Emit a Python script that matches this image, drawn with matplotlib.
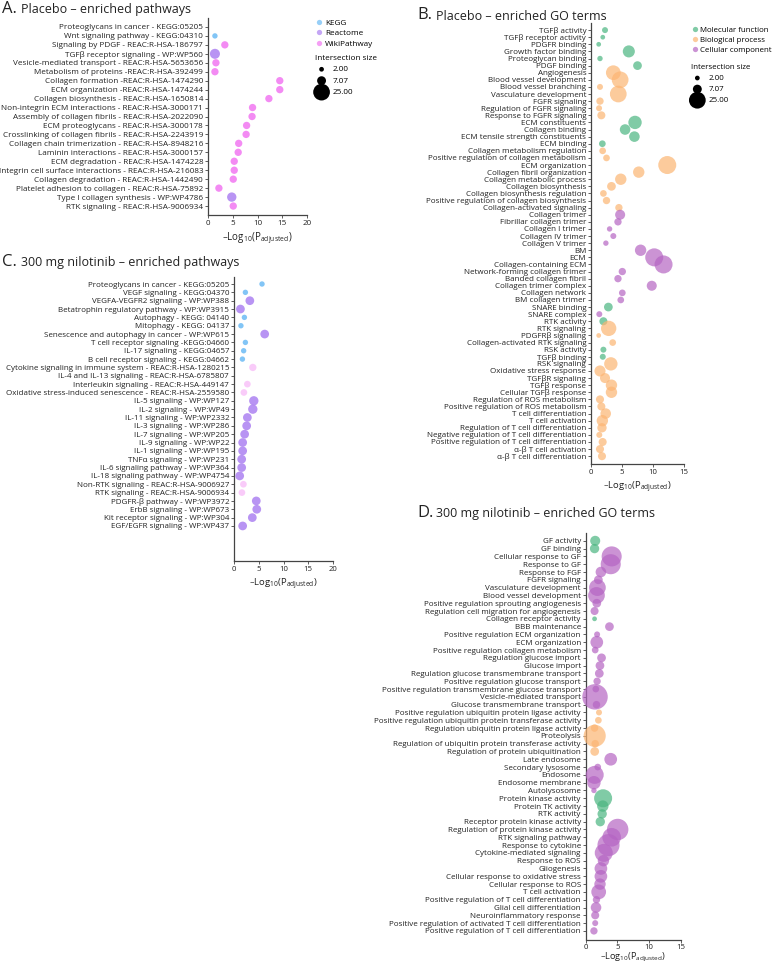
import numpy as np
import matplotlib.pyplot as plt
from matplotlib.lines import Line2D
from matplotlib.colors import to_rgba

plt.rcParams['font.family'] = ['Open Sans', 'DejaVu Sans']
plt.rcParams['mathtext.default'] = 'regular'

# ---------------- A. Placebo - enriched pathways
a_terms = ["Proteoglycans in cancer - KEGG:05205", "Wnt signaling pathway - KEGG:04310",
           "Signaling by PDGF - REAC:R-HSA-186797", "TGFβ receptor signaling - WP:WP560",
           "Vesicle-mediated transport - REAC:R-HSA-5653656", "Metabolism of proteins -REAC:R-HSA-392499",
           "Collagen formation -REAC:R-HSA-1474290", "ECM organization -REAC:R-HSA-1474244",
           "Collagen biosynthesis - REAC:R-HSA-1650814", "Non-integrin ECM interactions - REAC:R-HSA-3000171",
           "Assembly of collagen fibrils - REAC:R-HSA-2022090", "ECM proteoglycans - REAC:R-HSA-3000178",
           "Crosslinking of collagen fibrils - REAC:R-HSA-2243919", "Collagen chain trimerization - REAC:R-HSA-8948216",
           "Laminin interactions - REAC:R-HSA-3000157", "ECM degradation - REAC:R-HSA-1474228",
           "Integrin cell surface interactions - REAC:R-HSA-216083", "Collagen degradation - REAC:R-HSA-1442490",
           "Platelet adhesion to collagen - REAC:R-HSA-75892", "Type I collagen synthesis - WP:WP4786",
           "RTK signaling - REAC:R-HSA-9006934"]
a_logp = [np.nan, 1.4, 3.4, 1.4, 1.6, 1.4, 14.5, 14.5, 12.3, 9.0, 8.9, 7.8, 7.7, 6.2, 6.1,
          5.3, 5.3, 5.1, 2.2, 4.8, 5.1]
a_size = [np.nan, 2.6, 4.8, 9.0, 4.8, 4.8, 4.8, 4.8, 4.8, 4.8, 4.8, 4.8, 4.8, 4.8, 4.8,
          4.8, 4.8, 4.8, 4.8, 7.8, 4.8]
a_group = ["k", "k", "w", "r", "w", "w", "w", "w", "w", "w", "w", "w", "w", "w", "w",
           "w", "w", "w", "w", "r", "w"]

# ---------------- B. Placebo - enriched GO terms
b_terms = ["TGFβ activity", "TGFβ receptor activity", "PDGFR binding", "Growth factor binding",
           "Proteoglycan binding", "PDGF binding", "Angiogenesis", "Blood vessel development",
           "Blood vessel branching", "Vasculature development", "FGFR signaling",
           "Regulation of FGFR signaling", "Response to FGFR signaling", "ECM constituents",
           "Collagen binding", "ECM tensile strength constituents", "ECM binding",
           "Collagen metabolism regulation", "Positive regulation of collagen metabolism",
           "ECM organization", "Collagen fibril organization", "Collagen metabolic process",
           "Collagen biosynthesis", "Collagen biosynthesis regulation",
           "Positive regulation of collagen biosynthesis", "Collagen-activated signaling",
           "Collagen trimer", "Fibrillar collagen trimer", "Collagen I trimer", "Collagen IV trimer",
           "Collagen V trimer", "BM", "ECM", "Collagen-containing ECM", "Network-forming collagen trimer",
           "Banded collagen fibril", "Collagen trimer complex", "Collagen network", "BM collagen trimer",
           "SNARE binding", "SNARE complex", "RTK activity", "RTK signaling", "PDGFRβ signaling",
           "Collagen-activated RTK signaling", "RSK activity", "TGFβ binding", "RSK signaling",
           "Oxidative stress response", "TGFβR signaling", "TGFβ response", "Cellular TGFβ response",
           "Regulation of ROS metabolism", "Positive regulation of ROS metabolism",
           "T cell differentiation", "T cell activation", "Regulation of T cell differentiation",
           "Negative regulation of T cell differentiation", "Positive regulation of T cell differentiation",
           "α-β T cell activation", "α-β T cell differentiation"]
b_logp = [2.26, 1.9, 1.24, 6.1, 1.45, 7.5, 3.6, 4.7, 1.45, 4.4, 1.45, 1.3, 1.67, 7.1, 5.5, 7.0,
          1.83, 1.88, 2.5, 12.3, 7.7, 4.8, 3.3, 2.0, 2.5, 4.5, 4.7, 4.35, 3.0, 3.6, 2.4, 8.0,
          10.2, 11.7, 5.05, 4.35, 9.8, 5.05, 4.8, 2.8, 1.34, 2.0, 2.85, 1.24, 3.5, 2.0, 1.9, 3.2,
          1.45, 2.26, 3.3, 3.3, 1.45, 1.67, 2.37, 1.83, 1.77, 1.34, 1.88, 1.45, 1.77]
b_size = [3.2, 2.0, 2.0, 13.0, 2.6, 6.8, 19.4, 25.0, 3.2, 25.0, 4.8, 3.2, 5.8, 16.0, 10.0, 10.0,
          4.0, 4.0, 4.0, 29.0, 11.6, 11.6, 6.8, 4.0, 4.8, 4.8, 9.0, 4.8, 2.6, 3.2, 2.6, 11.6,
          29.0, 29.0, 4.8, 4.8, 9.0, 4.0, 4.0, 6.8, 3.2, 5.8, 21.0, 2.0, 4.0, 3.2, 3.2, 16.0,
          11.0, 9.0, 11.6, 11.6, 5.8, 5.8, 10.0, 11.6, 7.8, 3.2, 5.8, 5.8, 5.8]
b_group = ["mf"] * 6 + ["bp"] * 7 + ["mf"] * 4 + ["bp"] * 9 + ["cc"] * 13 + \
          ["mf", "cc", "mf", "bp", "bp", "bp", "mf", "mf"] + ["bp"] * 14

# ---------------- C. 300 mg nilotinib - enriched pathways
c_terms = ["Proteoglycans in cancer - KEGG:05205", "VEGF signaling - KEGG:04370",
           "VEGFA-VEGFR2 signaling - WP:WP388", "Betatrophin regulatory pathway - WP:WP3915",
           "Autophagy - KEGG: 04140", "Mitophagy - KEGG: 04137",
           "Senescence and autophagy in cancer - WP:WP615", "T cell receptor signaling -KEGG:04660",
           "IL-17 signaling - KEGG:04657", "B cell receptor signaling - KEGG:04662",
           "Cytokine signaling in immune system - REAC:R-HSA-1280215",
           "IL-4 and IL-13 signaling - REAC:R-HSA-6785807", "Interleukin signaling - REAC:R-HSA-449147",
           "Oxidative stress-induced senescence - REAC:R-HSA-2559580", "IL-5 signaling - WP:WP127",
           "IL-2 signaling - WP:WP49", "IL-11 signaling - WP:WP2332", "IL-3 signaling - WP:WP286",
           "IL-7 signaling - WP:WP205", "IL-9 signaling - WP:WP22", "IL-1 signaling - WP:WP195",
           "TNFα signaling - WP:WP231", "IL-6 signaling pathway - WP:WP364",
           "IL-18 signaling pathway - WP:WP4754", "Non-RTK signaling - REAC:R-HSA-9006927",
           "RTK signaling - REAC:R-HSA-9006934", "PDGFR-β pathway - WP:WP3972",
           "ErbB signaling - WP:WP673", "Kit receptor signaling - WP:WP304",
           "EGF/EGFR signaling - WP:WP437"]
c_logp = [5.66, 2.3, 3.2, 1.3, 2.1, 1.4, 6.2, 2.3, 1.95, 1.7, 3.8, np.nan, 2.7, 2.0, 4.0, 3.8,
          2.7, 2.56, 2.15, 1.75, 1.75, 1.55, 1.55, 1.15, 1.9, 1.6, 4.5, 4.6, 3.7, 1.75]
c_size = [2.6, 2.6, 6.8, 6.8, 2.6, 2.6, 6.8, 2.6, 2.6, 2.6, 4.8, np.nan, 4.0, 4.0, 7.8, 7.8,
          6.8, 6.8, 6.8, 6.8, 6.8, 6.8, 6.8, 6.8, 4.0, 4.0, 6.8, 6.8, 6.8, 6.8]
c_group = ["k", "k", "r", "r", "k", "k", "r", "k", "k", "k", "w", "w", "w", "w"] + \
          ["r"] * 10 + ["w", "w", "r", "r", "r", "r"]

# ---------------- D. 300 mg nilotinib - enriched GO terms
d_terms = ["GF activity", "GF binding", "Cellular response to GF", "Response to GF", "Response to FGF",
           "FGFR signaling", "Vasculature development", "Blood vessel development",
           "Positive regulation sprouting angiogenesis", "Regulation cell migration for angiogenesis",
           "Collagen receptor activity", "BBB maintenance", "Positive regulation ECM organization",
           "ECM organization", "Positive regulation collagen metabolism", "Regulation glucose import",
           "Glucose import", "Regulation glucose transmembrane transport",
           "Positive regulation glucose transport", "Positive regulation transmembrane glucose transport",
           "Vesicle-mediated transport", "Glucose transmembrane transport",
           "Positive regulation ubiquitin protein ligase activity",
           "Positive regulation ubiquitin protein transferase activity",
           "Regulation ubiquitin protein ligase activity", "Proteolysis",
           "Regulation of ubiquitin protein transferase activity", "Regulation of protein ubiquitination",
           "Late endosome", "Secondary lysosome", "Endosome", "Endosome membrane", "Autolysosome",
           "Protein kinase activity", "Protein TK activity", "RTK activity",
           "Receptor protein kinase activity", "Regulation of protein kinase activity",
           "RTK signaling pathway", "Response to cytokine", "Cytokine-mediated signaling",
           "Response to ROS", "Gliogenesis", "Cellular response to oxidative stress",
           "Cellular response to ROS", "T cell activation", "Positive regulation of T cell differentiation",
           "Glial cell differentiation", "Neuroinflammatory response",
           "Positive regulation of activated T cell differentiation",
           "Positive regulation of T cell differentiation"]
d_logp = [1.5, 1.4, 4.1, 3.95, 2.4, 2.0, 1.85, 1.7, 1.75, 1.4, 1.4, 3.75, 1.8, 1.75, 1.5, 2.5,
          2.25, 2.15, 1.8, 1.6, 1.47, 1.7, 2.1, 2.0, 1.4, 1.42, 1.5, 1.42, 3.95, 1.9, 1.42, 1.3,
          1.3, 2.75, 2.7, 2.6, 2.3, 5.05, 4.1, 3.6, 2.85, 2.8, 2.4, 2.4, 2.26, 2.05, 1.7, 1.63,
          1.5, 1.5, 1.3]
d_size = [9.0, 7.8, 36.0, 36.0, 10.0, 6.8, 25.0, 25.0, 6.8, 5.8, 2.0, 6.8, 3.2, 14.4, 4.0, 6.8,
          6.8, 6.8, 4.8, 4.0, 58.0, 5.0, 3.2, 4.0, 5.0, 43.6, 5.0, 6.8, 14.4, 4.0, 29.0, 16.0,
          2.6, 29.0, 11.6, 7.8, 7.8, 41.0, 31.0, 43.6, 29.0, 11.6, 14.4, 14.4, 11.6, 19.4, 4.8,
          10.0, 5.8, 3.2, 4.8]
d_group = ["mf", "mf"] + ["cc"] * 8 + ["mf"] + ["cc"] * 11 + ["bp"] * 6 + ["cc"] * 5 + \
          ["mf"] * 4 + ["cc"] * 14

legend_sizes = [2.0, 7.07, 25.0]

path_colors = {"k": "#74bff5", "r": "#b188f2", "w": "#f27ff2"}
go_colors = {"mf": "#4bb580", "bp": "#fcb573", "cc": "#b565c3"}
path_names = {"k": "KEGG", "r": "Reactome", "w": "WikiPathway"}
go_names = {"mf": "Molecular function", "bp": "Biological process", "cc": "Cellular component"}

W, H = 775, 966
fig = plt.figure(figsize=(W / 100, H / 100), dpi=100)
K = 5.8  # marker area per unit of intersection size


def make_ax(left, right, top, bottom):
    return fig.add_axes([left / W, 1 - bottom / H, (right - left) / W, (bottom - top) / H])


def dotplot(ax, terms, logp, size, colors, xmax, xticks, ylim, fs, labelpad=3):
    # fs = (label size, tick size, xlabel size)
    y = np.arange(len(terms))
    ax.scatter(logp, y, s=np.array(size) * K, c=colors,
               edgecolors='none', clip_on=False, zorder=3)
    ax.set_yticks(y)
    ax.set_yticklabels(terms, fontsize=fs[0], color='#222222')
    ax.set_xlim(0, xmax)
    ax.set_xticks(xticks)
    ax.set_ylim(*ylim)
    ax.tick_params(axis='y', length=2, width=0.6, pad=1.5, colors='#444444', labelcolor='#222222')
    ax.tick_params(axis='x', length=2, width=0.6, pad=1.5, labelsize=fs[1], colors='#444444',
                   labelcolor='#222222')
    for s in ('top', 'right'):
        ax.spines[s].set_visible(False)
    for s in ('left', 'bottom'):
        ax.spines[s].set_color('#444444')
        ax.spines[s].set_linewidth(0.9)
    ax.set_xlabel(r'–Log$_{10}$(P$_{adjusted}$)', fontsize=fs[2], labelpad=labelpad, color='#222222')


def rgba_list(groups, cmap, alpha):
    return [to_rgba(cmap[g], alpha[g] if isinstance(alpha, dict) else alpha) for g in groups]


# panel A
axA = make_ax(208, 307, 18, 215)
dotplot(axA, a_terms, a_logp, a_size, rgba_list(a_group, path_colors, 0.9), 20,
        [0, 5, 10, 15, 20], (21.0, -1.0), (5.85, 5.8, 7.0), labelpad=2.5)

# panel B
axB = make_ax(591, 684, 23, 464)
dotplot(axB, b_terms, b_logp, b_size, rgba_list(b_group, go_colors, 0.7), 15,
        [0, 5, 10, 15], (61.1, -1.0), (5.8, 5.6, 6.8))

# panel C
axC = make_ax(234, 333, 277, 561)
dotplot(axC, c_terms, c_logp, c_size,
        rgba_list(c_group, path_colors, {"k": 0.9, "r": 0.9, "w": 0.4}), 20,
        [0, 5, 10, 15, 20], (33.2, -0.84), (5.75, 5.6, 6.8))

# panel D
axD = make_ax(585.7, 680.7, 533, 939.5)
dotplot(axD, d_terms, d_logp, d_size, rgba_list(d_group, go_colors, 0.7), 15,
        [0, 5, 10, 15], (51.1, -1.0), (5.75, 5.6, 6.6), labelpad=0)

# titles
for x, y, letter, text in [(2, 9, "A.", "Placebo – enriched pathways"),
                           (417, 15, "B.", "Placebo – enriched GO terms"),
                           (2, 262, "C.", "300 mg nilotinib – enriched pathways"),
                           (417, 513, "D.", "300 mg nilotinib – enriched GO terms")]:
    fig.text(x / W, 1 - y / H, letter, fontsize=12, va='center', ha='left', color='#222222')
    fig.text((x + 19) / W, 1 - (y + 1) / H, text, fontsize=9, va='center', ha='left', color='#222222')


# legends
def add_legends(x, y, keys, cmap, names, alpha, ys, fsz):
    h1 = [Line2D([], [], marker='o', ls='', markersize=3.8, markeredgewidth=0,
                 color=to_rgba(cmap[k], alpha)) for k in keys]
    fig.legend(h1, [names[k] for k in keys], loc='upper left', bbox_to_anchor=(x / W, 1 - y / H),
               frameon=False, fontsize=fsz, handletextpad=0.2, labelspacing=0.35,
               borderpad=0, handlelength=1.0, borderaxespad=0)
    h2 = [plt.scatter([], [], s=v * K, color='black', edgecolors='none') for v in legend_sizes]
    fig.legend(h2, ['%.2f' % v for v in legend_sizes], loc='upper left',
               bbox_to_anchor=(x / W, 1 - ys / H), frameon=False, fontsize=fsz,
               title='Intersection size', title_fontsize=fsz, alignment='left',
               handletextpad=0.6, labelspacing=0.45, borderpad=0, borderaxespad=0,
               scatterpoints=1, handlelength=1.6)


add_legends(315, 19, ["k", "r", "w"], path_colors, path_names, 0.75, 55, 5.9)
add_legends(691, 26, ["mf", "bp", "cc"], go_colors, go_names, 0.7, 64, 5.7)

fig.savefig("out.png", dpi=100)
